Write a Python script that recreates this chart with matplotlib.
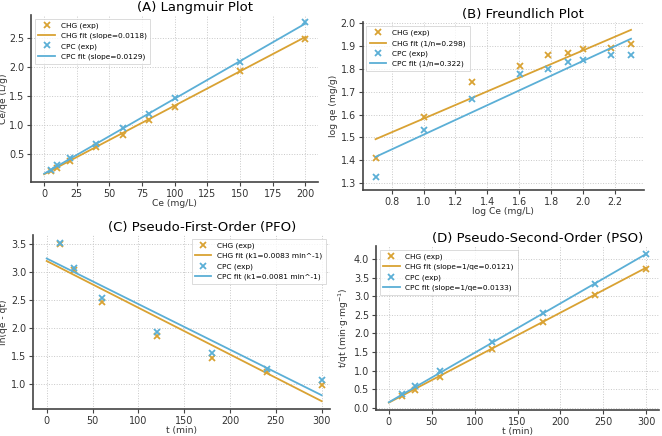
import numpy as np
import matplotlib
matplotlib.use("Agg")
import matplotlib.pyplot as plt

# ---- data ----
ce = [5, 10, 20, 40, 60, 80, 100, 150, 200]
ceqe_chg = [0.20, 0.26, 0.37, 0.62, 0.83, 1.08, 1.30, 1.92, 2.48]
ceqe_cpc = [0.23, 0.30, 0.43, 0.67, 0.95, 1.18, 1.46, 2.08, 2.76]
lang_fit_chg = (0.0118, 0.15)   # slope, intercept
lang_fit_cpc = (0.0129, 0.16)

logce = [0.699, 1.0, 1.301, 1.602, 1.778, 1.903, 2.0, 2.176, 2.301]
logqe_chg = [1.411, 1.59, 1.741, 1.812, 1.86, 1.867, 1.888, 1.892, 1.908]
logqe_cpc = [1.329, 1.531, 1.668, 1.776, 1.80, 1.831, 1.837, 1.862, 1.862]
freund_fit_chg = (0.298, 1.284)
freund_fit_cpc = (0.322, 1.19)

t = [15, 30, 60, 120, 180, 240, 300]
lnq_chg = [3.50, 3.03, 2.47, 1.85, 1.47, 1.21, 0.99]
lnq_cpc = [3.51, 3.07, 2.53, 1.93, 1.56, 1.28, 1.07]
pfo_fit_chg = (-0.0083, 3.19)
pfo_fit_cpc = (-0.0081, 3.235)

tqt_chg = [0.32, 0.49, 0.84, 1.58, 2.31, 3.03, 3.74]
tqt_cpc = [0.38, 0.58, 0.98, 1.78, 2.55, 3.34, 4.15]
pso_fit_chg = (0.0121, 0.14)
pso_fit_cpc = (0.0133, 0.15)

C_CHG = "#D9A233"
C_CPC = "#5BAFD6"

plt.rcParams['font.family'] = ['DejaVu Sans']

fig = plt.figure(figsize=(6.62, 4.36), dpi=100)


def style(ax):
    for s in ['top', 'right']:
        ax.spines[s].set_visible(False)
    for s in ['left', 'bottom']:
        ax.spines[s].set_color('#444444')
        ax.spines[s].set_linewidth(1.2)
    ax.grid(True, linestyle=':', linewidth=0.7, color='#c8c8c8')
    ax.set_axisbelow(True)
    ax.tick_params(labelsize=6.9, length=3, width=0.8, color='#444444',
                   labelcolor='#333333', pad=2)


def panel(ax, x, y1, y2, fit1, fit2, xfit, lab1, lab2, title, xlabel, ylabel, loc):
    xf = np.array(xfit)
    ax.plot(x, y1, 'x', color=C_CHG, ms=5, mew=1.3, label='CHG (exp)')
    ax.plot(xf, fit1[0] * xf + fit1[1], color=C_CHG, lw=1.3, label=lab1)
    ax.plot(x, y2, 'x', color=C_CPC, ms=5, mew=1.3, label='CPC (exp)')
    ax.plot(xf, fit2[0] * xf + fit2[1], color=C_CPC, lw=1.3, label=lab2)
    ax.set_title(title, fontsize=9.5, x=0.57, pad=3)
    ax.set_xlabel(xlabel, fontsize=6.6, color='#333333', labelpad=0)
    ax.set_ylabel(ylabel, fontsize=6.6, color='#333333', labelpad=2)
    style(ax)
    leg = ax.legend(loc=loc, fontsize=5.3, frameon=True, fancybox=False,
                    handlelength=2.2, borderpad=0.5, labelspacing=0.5)
    leg.get_frame().set_edgecolor('#cccccc')
    leg.get_frame().set_linewidth(0.6)


axA = fig.add_axes([0.047, 0.583, 0.434, 0.383])
panel(axA, ce, ceqe_chg, ceqe_cpc, lang_fit_chg, lang_fit_cpc, [0, 200],
      'CHG fit (slope=0.0118)', 'CPC fit (slope=0.0129)',
      '(A) Langmuir Plot', 'Ce (mg/L)', 'Ce/qe (L/g)', 'upper left')
axA.set_xticks([0, 25, 50, 75, 100, 125, 150, 175, 200])
axA.set_yticks([0.5, 1.0, 1.5, 2.0, 2.5])
axA.yaxis.set_label_coords(-0.082, 0.5)

axB = fig.add_axes([0.548, 0.564, 0.4245, 0.385])
panel(axB, logce, logqe_chg, logqe_cpc, freund_fit_chg, freund_fit_cpc,
      [logce[0], logce[-1]],
      'CHG fit (1/n=0.298)', 'CPC fit (1/n=0.322)',
      '(B) Freundlich Plot', 'log Ce (mg/L)', 'log qe (mg/g)', 'upper left')
axB.set_ylim(1.27, 2.003)
axB.set_xticks([0.8, 1.0, 1.2, 1.4, 1.6, 1.8, 2.0, 2.2])

axC = fig.add_axes([0.0498, 0.0618, 0.4486, 0.399])
panel(axC, t, lnq_chg, lnq_cpc, pfo_fit_chg, pfo_fit_cpc, [0, 300],
      'CHG fit (k1=0.0083 min^-1)', 'CPC fit (k1=0.0081 min^-1)',
      '(C) Pseudo-First-Order (PFO)', 't (min)', 'ln(qe - qt)', 'upper right')
axC.set_xlim(-15, 309)
axC.set_yticks([1.0, 1.5, 2.0, 2.5, 3.0, 3.5])
axC.yaxis.set_label_coords(-0.085, 0.5)

axD = fig.add_axes([0.568, 0.0595, 0.4275, 0.376])
panel(axD, t, tqt_chg, tqt_cpc, pso_fit_chg, pso_fit_cpc, [0, 300],
      'CHG fit (slope=1/qe=0.0121)', 'CPC fit (slope=1/qe=0.0133)',
      '(D) Pseudo-Second-Order (PSO)', 't (min)',
      't/qt (min·g·mg$^{-1}$)', 'upper left')
axD.set_yticks([0.0, 0.5, 1.0, 1.5, 2.0, 2.5, 3.0, 3.5, 4.0])

fig.savefig('out.png', dpi=100)
